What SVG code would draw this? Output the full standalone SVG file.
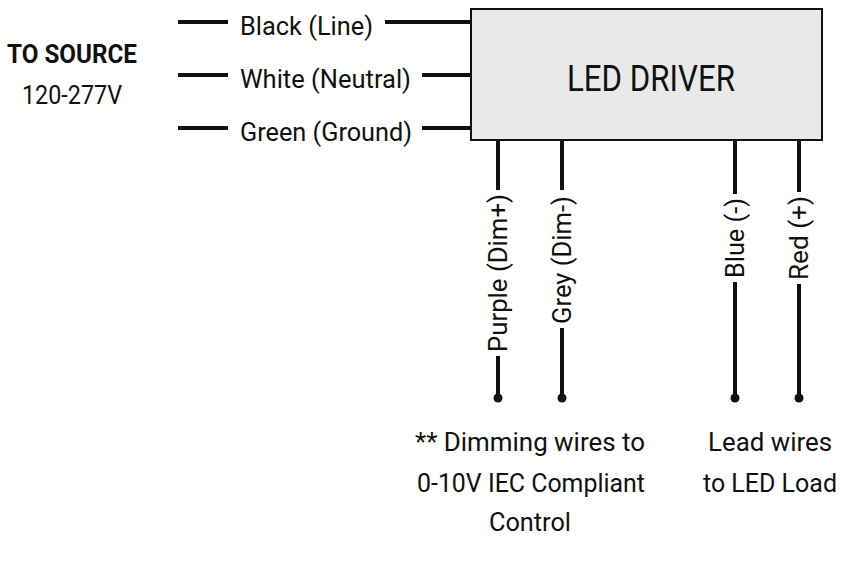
<svg xmlns="http://www.w3.org/2000/svg" width="853" height="566" viewBox="0 0 853 566">
<style>
text{font-family:Roboto,"Liberation Sans",sans-serif;fill:#111;font-size:26px}
.w{stroke:#111;stroke-width:4;fill:none}
.c{text-anchor:middle}
.big{font-size:36px}
</style>
<rect width="853" height="566" fill="#fff"/>
<g id="driver"><rect x="471" y="9" width="351" height="131" fill="#e9e9e9" stroke="#111" stroke-width="2"/>
<text x="651" y="91" class="c big" textLength="168" lengthAdjust="spacingAndGlyphs">LED DRIVER</text></g>
<g id="source"><text x="72" y="63" class="c" font-weight="bold" textLength="130" lengthAdjust="spacingAndGlyphs">TO SOURCE</text>
<text x="72" y="104" class="c" textLength="100" lengthAdjust="spacingAndGlyphs">120-277V</text></g>
<g id="connectors">
<path class="w" d="M178 22H228M385 22H471M178 75H228M422 75H471M178 128H228M422 128H471"/>
<path class="w" d="M498 140V190M498 356V398M562 140V190M562 328V398M735 140V194M735 282V398M799 140V192M799 284V398"/>
<g fill="#111"><circle cx="498" cy="398" r="4.5"/><circle cx="562" cy="398" r="4.5"/><circle cx="735" cy="398" r="4.5"/><circle cx="799" cy="398" r="4.5"/></g>
</g>
<g id="labels">
<text x="240" y="35" textLength="133" lengthAdjust="spacingAndGlyphs">Black (Line)</text>
<text x="240" y="88" textLength="171" lengthAdjust="spacingAndGlyphs">White (Neutral)</text>
<text x="240" y="141" textLength="172" lengthAdjust="spacingAndGlyphs">Green (Ground)</text>
<text transform="translate(507 352) rotate(-90)" textLength="158" lengthAdjust="spacingAndGlyphs">Purple (Dim+)</text>
<text transform="translate(571 324) rotate(-90)" textLength="128" lengthAdjust="spacingAndGlyphs">Grey (Dim-)</text>
<text transform="translate(744 278) rotate(-90)" textLength="80" lengthAdjust="spacingAndGlyphs">Blue (-)</text>
<text transform="translate(808 280) rotate(-90)" textLength="84" lengthAdjust="spacingAndGlyphs">Red (+)</text>
<text x="530" y="451" class="c" textLength="230" lengthAdjust="spacingAndGlyphs">** Dimming wires to</text>
<text x="531" y="492" class="c" textLength="228" lengthAdjust="spacingAndGlyphs">0-10V IEC Compliant</text>
<text x="530" y="531" class="c" textLength="82" lengthAdjust="spacingAndGlyphs">Control</text>
<text x="770" y="451" class="c" textLength="124" lengthAdjust="spacingAndGlyphs">Lead wires</text>
<text x="770" y="492" class="c" textLength="134" lengthAdjust="spacingAndGlyphs">to LED Load</text>
</g>
</svg>
